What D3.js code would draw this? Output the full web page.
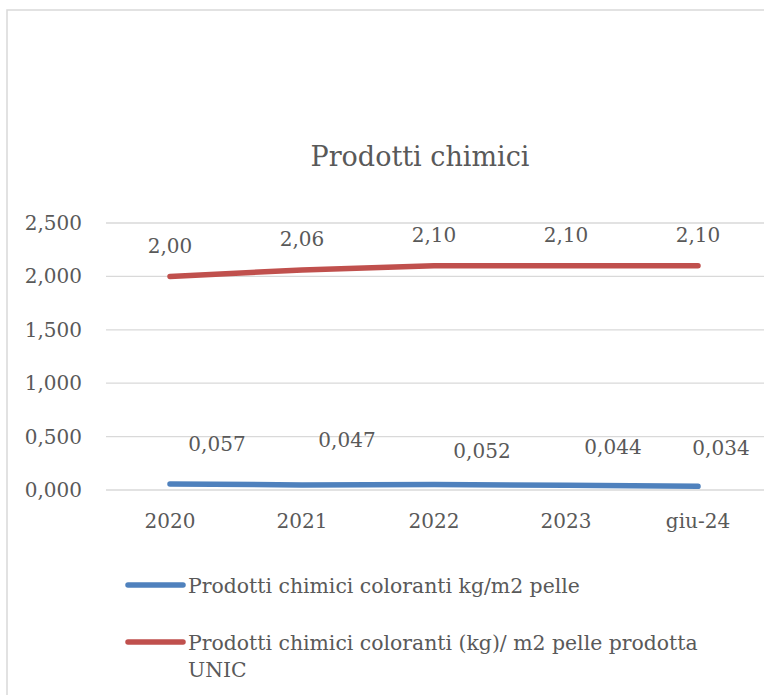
<!DOCTYPE html>
<html>
<head>
<meta charset="utf-8">
<script src="https://cdn.jsdelivr.net/npm/d3@7"></script>
<style>
  body { margin: 0; background: #fff; }
  text { font-family: "DejaVu Serif", serif; fill: #595959; }
</style>
</head>
<body>
<svg id="chart" width="764" height="695"></svg>
<script>
// dati
const categories = ["2020", "2021", "2022", "2023", "giu-24"];
const blueValues = [0.057, 0.047, 0.052, 0.044, 0.034];
const redValues = [2.00, 2.06, 2.10, 2.10, 2.10];
const yTicks = [0, 0.5, 1.0, 1.5, 2.0, 2.5];
const seriesNames = [
  "Prodotti chimici coloranti kg/m2 pelle",
  "Prodotti chimici coloranti (kg)/ m2 pelle prodotta"
];
const titleText = "Prodotti chimici";

// spostamenti etichette (spostate a mano nel grafico originale)
const blueLabelDx = [47, 45, 48, 47, 23];
const blueLabelDy = [-40, -45, -34, -39, -39];

const svg = d3.select("#chart");
const width = +svg.attr("width");

const fmt = (d, n) => d.toFixed(n).replace(".", ",");

// cornice
svg.append("path")
  .attr("d", "M7,695 L7,10 L764,10")
  .attr("fill", "none")
  .attr("stroke", "#d9d9d9")
  .attr("stroke-width", 1.5);

const x = d3.scaleBand().domain(categories).range([104, 764]);
const y = d3.scaleLinear().domain([0, 2.5]).range([490, 223]);
const xc = d => x(d) + x.bandwidth() / 2;

// griglia
svg.selectAll("line.grid")
  .data(yTicks)
  .enter()
  .append("line")
  .attr("x1", 106)
  .attr("x2", width)
  .attr("y1", d => y(d))
  .attr("y2", d => y(d))
  .attr("stroke", "#d9d9d9")
  .attr("stroke-width", 1.3);

// asse y
const yAxis = svg.append("g")
  .attr("transform", "translate(82,0)")
  .call(d3.axisLeft(y).tickValues(yTicks).tickSize(0).tickPadding(0).tickFormat(d => fmt(d, 3)));
yAxis.select(".domain").remove();
yAxis.selectAll("text")
  .attr("font-size", "20px")
  .attr("fill", "#595959")
  .style("font-family", "DejaVu Serif");

// asse x
const xAxis = svg.append("g")
  .attr("transform", "translate(0,514)")
  .call(d3.axisBottom(x).tickSize(0).tickPadding(0));
xAxis.select(".domain").remove();
xAxis.selectAll("text")
  .attr("font-size", "20px")
  .attr("fill", "#595959")
  .style("font-family", "DejaVu Serif");

// titolo
svg.append("text")
  .attr("x", 420)
  .attr("y", 166)
  .attr("text-anchor", "middle")
  .attr("font-size", "27px")
  .text(titleText);

// linee
const line = d3.line()
  .x((d, i) => xc(categories[i]))
  .y(d => y(d));

svg.append("path")
  .datum(redValues)
  .attr("d", line)
  .attr("fill", "none")
  .attr("stroke", "#C0504D")
  .attr("stroke-width", 5.5)
  .attr("stroke-linecap", "round")
  .attr("stroke-linejoin", "round");

svg.append("path")
  .datum(blueValues)
  .attr("d", line)
  .attr("fill", "none")
  .attr("stroke", "#4F81BD")
  .attr("stroke-width", 5.5)
  .attr("stroke-linecap", "round")
  .attr("stroke-linejoin", "round");

// etichette dati
svg.selectAll("text.red-label")
  .data(redValues)
  .enter()
  .append("text")
  .attr("class", "red-label")
  .attr("x", (d, i) => xc(categories[i]))
  .attr("y", d => y(d) - 31)
  .attr("dy", "0.36em")
  .attr("text-anchor", "middle")
  .attr("font-size", "20px")
  .text(d => fmt(d, 2));

svg.selectAll("text.blue-label")
  .data(blueValues)
  .enter()
  .append("text")
  .attr("class", "blue-label")
  .attr("x", (d, i) => xc(categories[i]) + blueLabelDx[i])
  .attr("y", (d, i) => y(d) + blueLabelDy[i])
  .attr("dy", "0.36em")
  .attr("text-anchor", "middle")
  .attr("font-size", "20px")
  .text(d => fmt(d, 3));

// legenda
const legend = [
  { color: "#4F81BD", lines: [seriesNames[0]], y: 585 },
  { color: "#C0504D", lines: [seriesNames[1], "UNIC"], y: 642 }
];

legend.forEach(l => {
  svg.append("line")
    .attr("x1", 128).attr("x2", 183)
    .attr("y1", l.y).attr("y2", l.y)
    .attr("stroke", l.color)
    .attr("stroke-width", 5.5)
    .attr("stroke-linecap", "round");
  const t = svg.append("text")
    .attr("x", 188)
    .attr("y", l.y + 8)
    .attr("font-size", "20.4px");
  l.lines.forEach((s, i) => {
    t.append("tspan")
      .attr("x", 188)
      .attr("dy", i === 0 ? 0 : 27)
      .text(s);
  });
});
</script>
</body>
</html>
